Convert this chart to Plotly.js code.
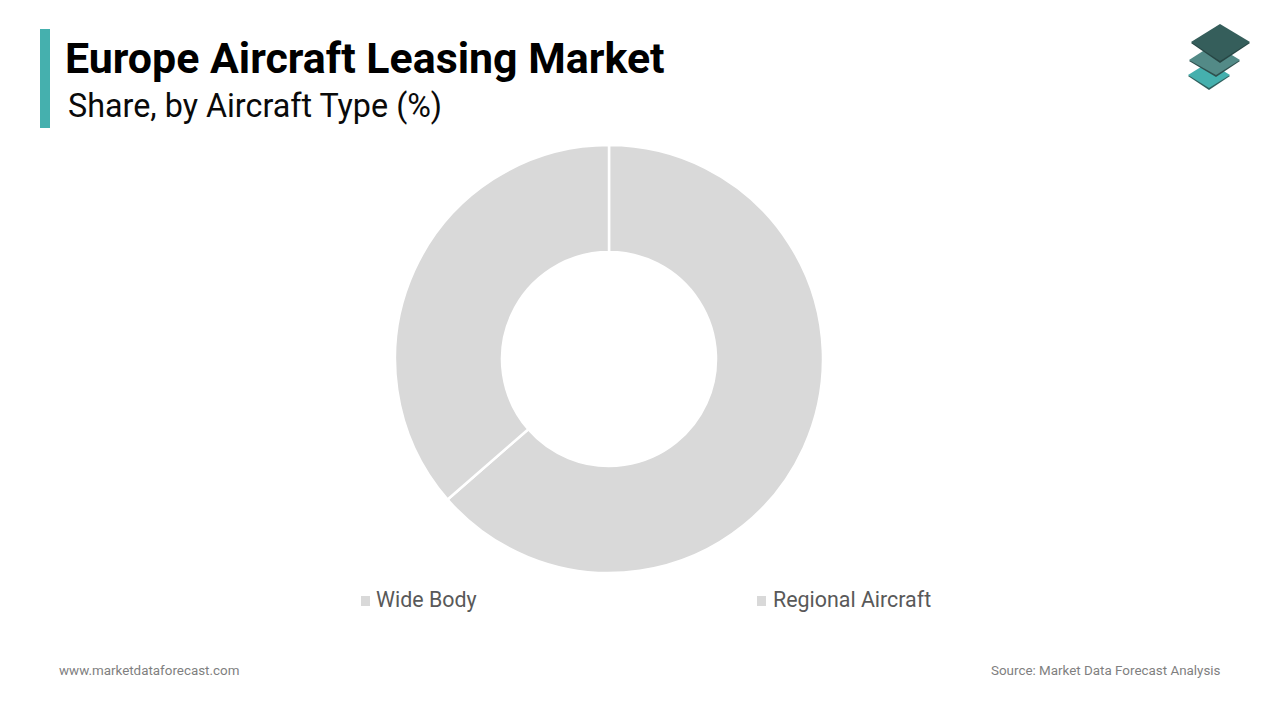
<!DOCTYPE html>
<html>
<head>
<meta charset="utf-8">
<script src="https://cdn.plot.ly/plotly-3.0.1.min.js"></script>
<style>
  html, body { margin: 0; padding: 0; background: #fff; }
  #chart { width: 1280px; height: 720px; }
</style>
</head>
<body>
<div id="chart"></div>
<script>
const W = 1280, H = 720;

const categories = ['Wide Body', 'Regional Aircraft'];
const shares = [63.6, 36.4];
const sliceColors = ['#d9d9d9', '#d9d9d9'];
const legendX = [361, 757];

const FONT = 'Roboto, sans-serif';

// pixel helpers, the page is laid out from the top left
const px = x => x / W;
const py = y => 1 - y / H;

function poly(points) {
  return 'M' + points.map(p => px(p[0]) + ',' + py(p[1])).join('L') + 'Z';
}

function box(x0, y0, x1, y1, color) {
  return {
    type: 'rect', xref: 'paper', yref: 'paper', layer: 'above',
    x0: px(x0), x1: px(x1), y0: py(y1), y1: py(y0),
    fillcolor: color, line: { width: 0 },
  };
}

function logoLayer(points, color) {
  return { type: 'path', xref: 'paper', yref: 'paper', path: poly(points), fillcolor: color, line: { width: 0 } };
}

function label(text, x, y, size, color, anchor) {
  return {
    text: text, xref: 'paper', yref: 'paper', x: px(x), y: py(y),
    xanchor: anchor || 'left', yanchor: 'middle', showarrow: false,
    font: { family: FONT, size: size, color: color },
  };
}

const trace = {
  type: 'pie',
  labels: categories,
  values: shares,
  hole: 0.5,
  sort: false,
  direction: 'clockwise',
  rotation: 0,
  textinfo: 'none',
  marker: { colors: sliceColors, line: { color: '#ffffff', width: 2.5 } },
  domain: { x: [px(395), px(823)], y: [py(573), py(145)] },
  hovertemplate: '%{label}: %{value}%<extra></extra>',
};

const shapes = [
  box(40, 29, 50, 128, '#45b0ae'),
  // logo, bottom layer first
  logoLayer([[1188, 76], [1209, 63], [1230, 76], [1209, 90]], '#2f5f5d'),
  logoLayer([[1188, 75], [1209, 62], [1230, 75], [1209, 88]], '#45b0ae'),
  logoLayer([[1189, 61], [1214, 45], [1240, 61], [1216, 77]], '#2f4f4d'),
  logoLayer([[1189, 60], [1214, 44], [1240, 60], [1216, 75]], '#538a87'),
  logoLayer([[1191, 43], [1220, 25], [1250, 43], [1220, 63]], '#274644'),
  logoLayer([[1191, 42], [1220, 24], [1250, 42], [1220, 61]], '#355e5b'),
];
categories.forEach((c, i) => {
  shapes.push(box(legendX[i], 596, legendX[i] + 9, 606, sliceColors[i]));
});

const annotations = [
  label('Share, by Aircraft Type (%)', 65.5, 106, 32.3, '#0a0a0a'),
  label('www.marketdataforecast.com', 57, 670, 13.4, '#7f7f7f'),
  label('Source: Market Data Forecast Analysis', 1223, 670, 13.4, '#7f7f7f', 'right'),
];
categories.forEach((c, i) => {
  annotations.push(label(c, legendX[i] + 13 + i, 599.5, 21.4, '#595959'));
});

const layout = {
  width: W,
  height: H,
  margin: { l: 0, r: 0, t: 0, b: 0 },
  paper_bgcolor: '#ffffff',
  showlegend: false,
  title: {
    text: '<b>Europe Aircraft Leasing Market</b>',
    font: { family: FONT, size: 42.9, color: '#000000' },
    xref: 'paper', yref: 'paper',
    x: px(65), xanchor: 'left',
    y: py(58), yanchor: 'middle',
  },
  shapes: shapes,
  annotations: annotations,
};

Plotly.newPlot('chart', [trace], layout, { displayModeBar: false });
</script>
</body>
</html>
